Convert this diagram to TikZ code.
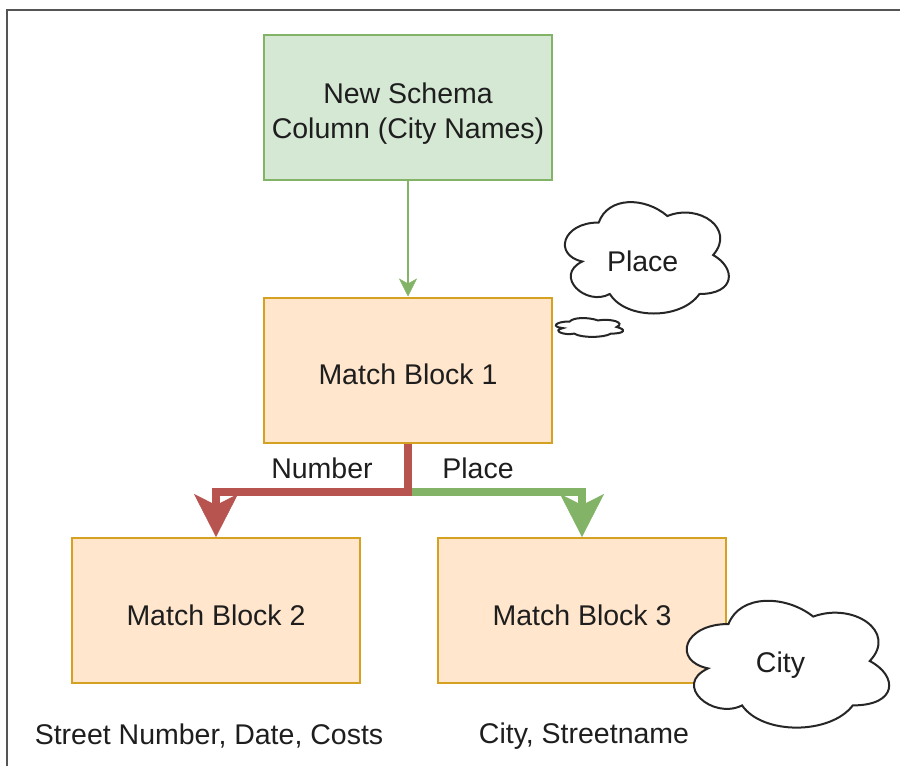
\documentclass[tikz,border=0pt]{standalone}
\usepackage{fontspec}
\setmainfont{Liberation Sans}
\usetikzlibrary{arrows.meta,calc}
\definecolor{gfill}{HTML}{D5E8D4}
\definecolor{gline}{HTML}{82B366}
\definecolor{ofill}{HTML}{FFE6CC}
\definecolor{oline}{HTML}{D6A020}
\definecolor{rline}{HTML}{B85450}
\definecolor{txtc}{HTML}{1E1E1E}
\definecolor{framec}{HTML}{555555}
\newcommand\mycloud[7]{%
  \begin{scope}[shift={(#1,#2)}, x=#3pt, y=-#4pt]
    \filldraw[cloudsty] (0.25,0.25) .. controls (0.05,0.25) and (0,0.5) .. (0.16,0.55)
      .. controls (0,0.66) and (0.18,0.9) .. (0.31,0.8)
      .. controls (0.4,1) and (0.7,1) .. (0.8,0.8)
      .. controls (1,0.8) and (1,0.6) .. (0.875,0.5)
      .. controls (1,0.3) and (0.8,0.1) .. (0.625,0.2)
      .. controls (0.5,0.05) and (0.3,0.05) .. (0.25,0.25) -- cycle;
    \node[txt] (#5) at #6 {#7};
  \end{scope}}
\begin{document}
\begin{tikzpicture}[x=1pt,y=-1pt,
  txt/.style={text=txtc, font=\fontsize{28.5}{35}\selectfont, inner sep=0pt, align=center},
  greenbox/.style={txt, draw=gline, fill=gfill, line width=2pt, minimum width=288pt, minimum height=145pt, text height=62pt, text depth=0pt},
  orangebox/.style={txt, draw=oline, fill=ofill, line width=2pt, minimum width=288pt, minimum height=145pt, text height=29pt, text depth=0pt},
  cloudsty/.style={draw=black!85, fill=white, line width=2pt},
  framesty/.style={draw=framec, line width=2pt},
  garrow/.style={draw=gline, line width=2pt, -{Stealth[length=18pt,width=18pt,inset=5pt,line width=0.5pt]}},
  bigred/.style={draw=rline, line width=8pt, -{Stealth[length=43pt,width=44pt,inset=11pt,line width=0.5pt]}},
  biggreen/.style={draw=gline, line width=8pt, -{Stealth[length=43pt,width=44pt,inset=11pt,line width=0.5pt]}}
]
\useasboundingbox (0,0) rectangle (900,766);
\draw[framesty] (7,766) -- (7,10) -- (900,10);

\node[greenbox] (ns) at (408,107.5) {New Schema\\Column (City Names)};
\node[orangebox] (mb1) at (408,370) {Match Block 1};
\node[orangebox] (mb2) at (216,610.5) {Match Block 2};
\node[orangebox] (mb3) at (582,610.5) {Match Block 3};

\draw[garrow] (ns) -- (mb1);

\coordinate (j) at (408,492);
\draw[biggreen] (j) -| (mb3.north);
\draw[bigred] (mb1.south) -- (j) -| (mb2.north);

\node[txt] (lnum) at (322,468) {Number};
\node[txt] (lplace) at (478,468) {Place};

\node[txt] (t2) at (209,736) {Street Number, Date, Costs};
\node[txt] (t3) at (584,736) {City, Streetname};

\mycloud{553}{190}{183}{130}{cplace}{(0.49,0.55)}{Place}
\mycloud{551}{316}{75}{22}{csmall}{(0.5,0.5)}{}
\mycloud{672}{587}{226}{148}{ccity}{(0.48,0.53)}{City}
\end{tikzpicture}
\end{document}
